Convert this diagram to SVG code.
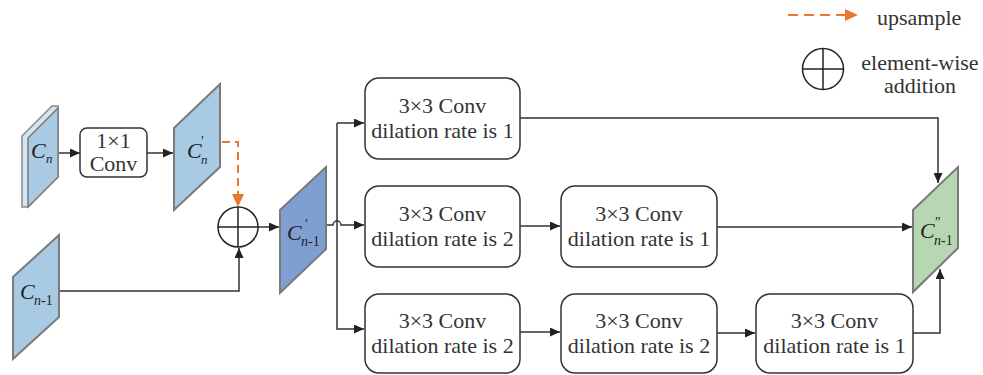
<svg xmlns="http://www.w3.org/2000/svg" width="983" height="375" viewBox="0 0 983 375">
<style>
.box{fill:#fff;stroke:#333;stroke-width:1.5}
.fm{stroke:#7a7a7a;stroke-width:2}
.ln{fill:none;stroke:#333;stroke-width:1.5}
.or{fill:none;stroke:#e8782f;stroke-width:2;stroke-dasharray:8 5}
</style>
<defs>
<marker id="ah" viewBox="0 0 10 10" refX="10" refY="5" markerWidth="10" markerHeight="9" orient="auto" markerUnits="userSpaceOnUse" preserveAspectRatio="none">
<path d="M0,0 L10,5 L0,10 z" fill="#222"/>
</marker>
</defs>

<!-- legend -->
<g id="legend">
<line x1="788" y1="15" x2="846" y2="15" class="or" style="stroke-dasharray:10 6"/>
<path d="M845,9 L858,15 L845,21 z" fill="#e8782f"/>
<text x="877" y="25" font-family="Liberation Serif" font-size="22" fill="#333">upsample</text>
<circle cx="823" cy="69" r="20.5" fill="none" stroke="#222" stroke-width="1.5"/>
<line x1="802.5" y1="69" x2="843.5" y2="69" stroke="#222" stroke-width="1.5"/>
<line x1="823" y1="48.5" x2="823" y2="89.5" stroke="#222" stroke-width="1.5"/>
<text x="920" y="70" font-family="Liberation Serif" font-size="22" fill="#333" text-anchor="middle">element-wise</text>
<text x="920" y="93" font-family="Liberation Serif" font-size="22" fill="#333" text-anchor="middle">addition</text>
</g>

<!-- connectors -->
<g id="connectors">
<line x1="58" y1="153" x2="80" y2="153" class="ln" marker-end="url(#ah)"/>
<line x1="147" y1="153" x2="173" y2="153" class="ln" marker-end="url(#ah)"/>
<path d="M222,142 H238 V196" class="or"/>
<path d="M232,194 L238,207 L244,194 z" fill="#e8782f"/>
<path d="M59,291 H239 V248" class="ln" marker-end="url(#ah)"/>
<line x1="258" y1="227" x2="279" y2="227" class="ln" marker-end="url(#ah)"/>
<path d="M327,225 H333 A4,4 0 0 1 341,225 H364" class="ln" marker-end="url(#ah)"/>
<path d="M337,123 V329 H364" class="ln" marker-end="url(#ah)"/>
<path d="M337,123 H364" class="ln" marker-end="url(#ah)"/>
<line x1="520" y1="226" x2="560" y2="226" class="ln" marker-end="url(#ah)"/>
<line x1="520" y1="332" x2="560" y2="332" class="ln" marker-end="url(#ah)"/>
<line x1="717" y1="333" x2="755" y2="333" class="ln" marker-end="url(#ah)"/>
<path d="M520,118 H938 V183" class="ln" marker-end="url(#ah)"/>
<line x1="717" y1="227" x2="912" y2="227" class="ln" marker-end="url(#ah)"/>
<path d="M913,333 H940 V269" class="ln" marker-end="url(#ah)"/>
</g>

<!-- add node -->
<g id="add">
<circle cx="238" cy="227" r="20" fill="#fff" stroke="#222" stroke-width="1.5"/>
<line x1="218" y1="227" x2="258" y2="227" stroke="#222" stroke-width="1.5"/>
<line x1="238" y1="207" x2="238" y2="247" stroke="#222" stroke-width="1.5"/>
</g>

<!-- feature maps -->
<g id="Cn">
<polygon points="22,136 52,106 58,106 58,177 28,207 22,207" fill="#d5e5f2" stroke="#8a8a8a" stroke-width="1.5"/>
<polygon points="28,138 58,108 58,177 28,207" fill="#a8cbe3" stroke="#7a7a7a" stroke-width="1.5"/>
<text x="31" y="158" font-family="Liberation Serif" font-size="22" font-style="italic" fill="#222">C</text>
<text x="46" y="163" font-family="Liberation Serif" font-size="13" font-style="italic" fill="#222">n</text>
</g>

<g id="conv1x1">
<rect x="80" y="128" width="67" height="49" rx="7" class="box"/>
<text x="113.5" y="148" font-family="Liberation Serif" font-size="22" fill="#333" text-anchor="middle">1×1</text>
<text x="113.5" y="171" font-family="Liberation Serif" font-size="22" fill="#333" text-anchor="middle">Conv</text>
</g>

<g id="Cpn">
<polygon points="174,128 220,84 220,167 174,210" fill="#a8cbe3" class="fm"/>
<text x="187" y="158" font-family="Liberation Serif" font-size="22" font-style="italic" fill="#222">C</text>
<text x="201" y="146" font-family="Liberation Serif" font-size="14" fill="#222">′</text>
<text x="201" y="164" font-family="Liberation Serif" font-size="13" font-style="italic" fill="#222">n</text>
</g>

<g id="Cn1">
<polygon points="13,277 59,235 59,317 13,359" fill="#a8cbe3" class="fm"/>
<text x="20" y="299" font-family="Liberation Serif" font-size="22" font-style="italic" fill="#222">C</text>
<text x="34" y="305" font-family="Liberation Serif" font-size="14" fill="#222"><tspan font-style="italic">n</tspan>-1</text>
</g>

<g id="Cpn1">
<polygon points="280,210 326,167 326,249 280,293" fill="#7f9fd2" class="fm"/>
<text x="287" y="240" font-family="Liberation Serif" font-size="22" font-style="italic" fill="#222">C</text>
<text x="305" y="229" font-family="Liberation Serif" font-size="14" fill="#222">′</text>
<text x="301" y="246" font-family="Liberation Serif" font-size="14" fill="#222"><tspan font-style="italic">n</tspan>-1</text>
</g>

<g id="Cppn1">
<polygon points="913,210 958,167 958,248 913,292" fill="#b6d7b1" class="fm"/>
<text x="920" y="238" font-family="Liberation Serif" font-size="22" font-style="italic" fill="#222">C</text>
<text x="935" y="227" font-family="Liberation Serif" font-size="14" fill="#222">″</text>
<text x="934" y="245" font-family="Liberation Serif" font-size="14" fill="#222"><tspan font-style="italic">n</tspan>-1</text>
</g>

<!-- conv boxes -->
<g id="b11">
<rect x="365" y="78" width="155" height="81" rx="14" class="box"/>
<text x="442.5" y="113" font-family="Liberation Serif" font-size="22" fill="#333" text-anchor="middle">3×3 Conv</text>
<text x="442.5" y="138" font-family="Liberation Serif" font-size="22" fill="#333" text-anchor="middle">dilation rate is 1</text>
</g>
<g id="b21">
<rect x="365" y="186" width="155" height="81" rx="14" class="box"/>
<text x="442.5" y="221" font-family="Liberation Serif" font-size="22" fill="#333" text-anchor="middle">3×3 Conv</text>
<text x="442.5" y="246" font-family="Liberation Serif" font-size="22" fill="#333" text-anchor="middle">dilation rate is 2</text>
</g>
<g id="b22">
<rect x="561" y="186" width="156" height="81" rx="14" class="box"/>
<text x="639" y="221" font-family="Liberation Serif" font-size="22" fill="#333" text-anchor="middle">3×3 Conv</text>
<text x="639" y="246" font-family="Liberation Serif" font-size="22" fill="#333" text-anchor="middle">dilation rate is 1</text>
</g>
<g id="b31">
<rect x="365" y="294" width="155" height="79" rx="14" class="box"/>
<text x="442.5" y="328" font-family="Liberation Serif" font-size="22" fill="#333" text-anchor="middle">3×3 Conv</text>
<text x="442.5" y="353" font-family="Liberation Serif" font-size="22" fill="#333" text-anchor="middle">dilation rate is 2</text>
</g>
<g id="b32">
<rect x="561" y="294" width="156" height="79" rx="14" class="box"/>
<text x="639" y="328" font-family="Liberation Serif" font-size="22" fill="#333" text-anchor="middle">3×3 Conv</text>
<text x="639" y="353" font-family="Liberation Serif" font-size="22" fill="#333" text-anchor="middle">dilation rate is 2</text>
</g>
<g id="b33">
<rect x="756" y="294" width="157" height="79" rx="14" class="box"/>
<text x="834.5" y="328" font-family="Liberation Serif" font-size="22" fill="#333" text-anchor="middle">3×3 Conv</text>
<text x="834.5" y="353" font-family="Liberation Serif" font-size="22" fill="#333" text-anchor="middle">dilation rate is 1</text>
</g>
</svg>
